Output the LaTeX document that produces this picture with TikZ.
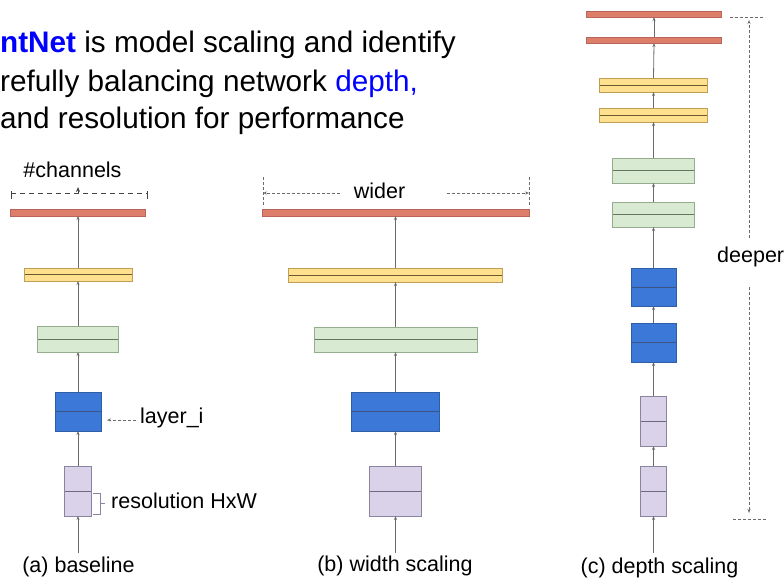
\documentclass[tikz,border=0pt]{standalone}
\usepackage{fontspec}
\setmainfont{Liberation Sans}
\usetikzlibrary{arrows.meta}
\definecolor{redF}{HTML}{DD7E6B}
\definecolor{redD}{HTML}{B9655A}
\definecolor{yelF}{HTML}{FFE08F}
\definecolor{yelD}{HTML}{BF9F55}
\definecolor{yelM}{HTML}{6B5B2E}
\definecolor{grnF}{HTML}{D9EAD3}
\definecolor{grnD}{HTML}{93AC8D}
\definecolor{grnM}{HTML}{62775E}
\definecolor{bluF}{HTML}{3C78D8}
\definecolor{bluD}{HTML}{2E5EA8}
\definecolor{bluM}{HTML}{3A5488}
\definecolor{purF}{HTML}{D9D2E9}
\definecolor{purD}{HTML}{8A84A0}
\definecolor{purM}{HTML}{6E6880}
\definecolor{conC}{HTML}{6A6A6A}
\definecolor{chC}{HTML}{444444}
\definecolor{ttlB}{HTML}{0000FF}
\tikzset{
  blk/.style={draw, inner sep=0pt, outer sep=0pt, line width=1pt},
  midl/.style={path picture={\draw[#1, line width=1pt] (path picture bounding box.west) -- (path picture bounding box.east);}},
  redbar/.style={blk, fill=redF, draw=redD, minimum height=7},
  yelbox/.style={blk, fill=yelF, draw=yelD, midl=yelM, minimum height=13},
  grnbox/.style={blk, fill=grnF, draw=grnD, midl=grnM, minimum height=25},
  blubox/.style={blk, fill=bluF, draw=bluD, midl=bluM, minimum height=39},
  purbox/.style={blk, fill=purF, draw=purD, midl=purM, minimum height=50},
  conn/.style={draw=conC, line width=0.8pt, -{Stealth[length=4pt,width=3pt]}},
  dsh/.style={draw=conC, line width=0.7pt, dash pattern=on 3pt off 2pt},
  dsharr/.style={dsh, -{Stealth[length=4pt,width=3pt]}},
  chdsh/.style={draw=chC, line width=1pt, dash pattern=on 5pt off 4pt},
  lbl/.style={font=\fontsize{21.5}{24}\selectfont, inner sep=0pt},
  ttl/.style={font=\fontsize{29.7}{36}\selectfont, inner sep=0pt, anchor=base west},
}
\begin{document}
\begin{tikzpicture}[x=1pt,y=-1pt]
\useasboundingbox (0,0) rectangle (784,579);
\fill[white] (0,0) rectangle (784,579);
% title
\node[ttl] (t1) at (0,52) {\textcolor{ttlB}{\textbf{ntNet}} is model scaling and identify};
\node[ttl] (t2) at (0,91) {refully balancing network \textcolor{ttlB}{depth,}};
\node[ttl] (t3) at (0,128) {and resolution for performance};

% (a) baseline
\node[redbar, minimum width=135] (a1) at (78,212.5) {};
\node[yelbox, minimum width=108] (a2) at (78,274.5) {};
\node[grnbox, minimum width=81, minimum height=26] (a3) at (78,339) {};
\node[blubox, minimum width=46] (a4) at (78,411.5) {};
\node[purbox, minimum width=27] (a5) at (78,491) {};
\coordinate (a0) at (78,553);
\draw[conn] (a0) -- (a5.south);
\draw[conn] (a5.north) -- (a4.south);
\draw[conn] (a4.north) -- (a3.south);
\draw[conn] (a3.north) -- (a2.south);
\draw[conn] (a2.north) -- (a1.south);
\node[lbl] (alab) at (78.5,567) {(a) baseline};
% #channels
\node[lbl, anchor=base] (chn) at (72.5,177) {\#channels};
\coordinate (chL) at (11,193);
\coordinate (chR) at (147,193);
\draw[chdsh] (chL) -- (chR);
\draw[draw=chC, line width=1pt] (11,191) -- (11,199);
\draw[draw=chC, line width=1pt] (147,191) -- (147,199);
\coordinate (chA) at (78,194);
\coordinate (chB) at (78,187);
\draw[draw=chC, line width=0.8pt, -{Stealth[length=5pt,width=4pt]}] (chA) -- (chB);
% layer_i
\node[lbl, anchor=west] (lay) at (140,418) {layer\_i};
\coordinate (layS) at (136,420);
\coordinate (layE) at (107,420);
\draw[dsharr] (layS) -- (layE);
% resolution
\node[lbl, anchor=west] (res) at (111,501) {resolution HxW};
\draw[draw=purD, line width=1pt] (93,493) -- (100,493) -- (100,514) -- (93,514);
\draw[draw=purD, line width=1pt] (100,503.5) -- (105,503.5);

% (b) width scaling
\node[redbar, minimum width=267] (b1) at (395.5,212.5) {};
\node[yelbox, minimum width=214, minimum height=14] (b2) at (395.5,275) {};
\node[grnbox, minimum width=163] (b3) at (395.5,339.5) {};
\node[blubox, minimum width=88] (b4) at (395.5,411.5) {};
\node[purbox, minimum width=52] (b5) at (395.5,491) {};
\coordinate (b0) at (395.5,553);
\draw[conn] (b0) -- (b5.south);
\draw[conn] (b5.north) -- (b4.south);
\draw[conn] (b4.north) -- (b3.south);
\draw[conn] (b3.north) -- (b2.south);
\draw[conn] (b2.north) -- (b1.south);
\node[lbl] (blab) at (395,566) {(b) width scaling};
\node[lbl] (wid) at (379.5,191) {wider};
\coordinate (wL0) at (340,193);
\coordinate (wL1) at (263,193);
\coordinate (wR0) at (447,193);
\coordinate (wR1) at (529,193);
\draw[dsharr] (wL0) -- (wL1);
\draw[dsharr] (wR0) -- (wR1);
\draw[dsh] (263,177) -- (263,207);
\draw[dsh] (529,177) -- (529,207);

% (c) depth scaling
\node[redbar, minimum width=135, minimum height=6] (c1) at (654,14) {};
\node[redbar, minimum width=135, minimum height=6] (c2) at (654,40) {};
\node[yelbox, minimum width=108, minimum height=14] (c3) at (653.5,85) {};
\node[yelbox, minimum width=108, minimum height=14] (c4) at (653.5,115) {};
\node[grnbox, minimum width=82] (c5) at (653.5,170.5) {};
\node[grnbox, minimum width=82] (c6) at (653.5,214.5) {};
\node[blubox, minimum width=45, minimum height=38] (c7) at (653.5,287) {};
\node[blubox, minimum width=45] (c8) at (653.5,342.5) {};
\node[purbox, minimum width=26] (c9) at (653.5,421) {};
\node[purbox, minimum width=26] (c10) at (653.5,491) {};
\coordinate (c0) at (653.5,553);
\draw[conn] (c0) -- (c10.south);
\draw[conn] (c10.north) -- (c9.south);
\draw[conn] (c9.north) -- (c8.south);
\draw[conn] (c8.north) -- (c7.south);
\draw[conn] (c7.north) -- (c6.south);
\draw[conn] (c6.north) -- (c5.south);
\draw[conn] (c5.north) -- (c4.south);
\draw[conn] (c4.north) -- (c3.south);
\draw[conn] (c3.north) -- (c2.south);
\draw[conn] (c2.north) -- (c1.south);
\node[lbl] (clab) at (659.5,568) {(c) depth scaling};
\node[lbl, anchor=west] (dep) at (717,257) {deeper};
\coordinate (dT0) at (749,238);
\coordinate (dT1) at (749,20);
\coordinate (dB0) at (749,287);
\coordinate (dB1) at (749,513);
\draw[dsharr] (dT0) -- (dT1);
\draw[dsharr] (dB0) -- (dB1);
\draw[dsh] (730,17) -- (765,17);
\draw[dsh] (733,519) -- (767,519);
\end{tikzpicture}
\end{document}
